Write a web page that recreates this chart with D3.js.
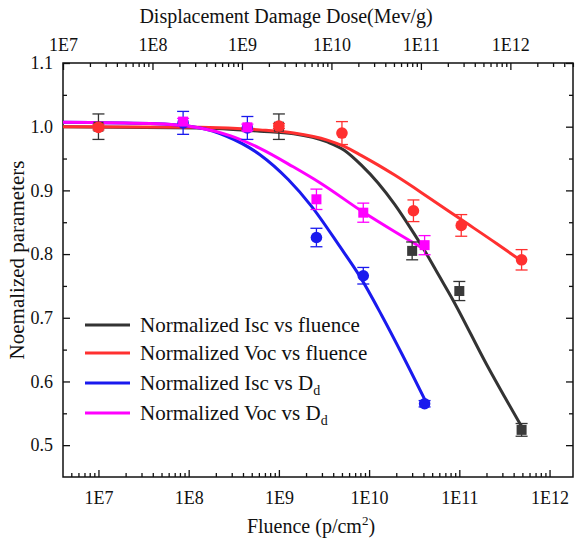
<!DOCTYPE html>
<html>
<head>
<meta charset="utf-8">
<script src="https://cdn.jsdelivr.net/npm/d3@7"></script>
<style>
  body { margin: 0; background: #fff; }
  svg { display: block; }
  text { font-family: "Liberation Serif", "Times New Roman", serif; fill: #111; }
</style>
</head>
<body>
<svg id="chart" width="576" height="545"></svg>
<script>
// ---- measured points (fluence axis, p/cm^2) ----
const iscFluence    = [1e7, 1e9, 3e10, 1e11, 4.9e11];
const iscFluenceVal = [1.000, 1.000, 0.805, 0.742, 0.524];
const iscFluenceErr = [0.020, 0.020, 0.014, 0.015, 0.010];

const vocFluence    = [1e7, 1e9, 5e9, 3.1e10, 1.05e11, 4.9e11];
const vocFluenceVal = [0.999, 1.001, 0.990, 0.868, 0.845, 0.791];
const vocFluenceErr = [0.004, 0.004, 0.018, 0.017, 0.017, 0.016];

// ---- measured points (displacement damage dose axis, MeV/g) ----
const iscDd    = [2.2e8, 1.15e9, 6.8e9, 2.27e10, 1.1e11];
const iscDdVal = [1.006, 0.998, 0.826, 0.766, 0.565];
const iscDdErr = [0.018, 0.018, 0.0145, 0.013, 0.005];

const vocDd    = [2.2e8, 1.15e9, 6.8e9, 2.27e10, 1.1e11];
const vocDdVal = [1.008, 0.999, 0.886, 0.865, 0.814];
const vocDdErr = [0.005, 0.005, 0.016, 0.015, 0.015];

// ---- fitted curves ----
const iscFluenceFitX = [4.05e6, 1.33e8, 6.15e8, 1.46e9, 3.44e9, 5.3e9, 8.15e9, 1.25e10, 1.92e10, 2.96e10, 4.18e10, 5.9e10, 8.34e10, 2.0e11, 4.86e11];
const iscFluenceFitY = [1.000, 0.998, 0.993, 0.989, 0.976, 0.963, 0.940, 0.912, 0.878, 0.838, 0.804, 0.767, 0.730, 0.627, 0.530];

const vocFluenceFitX = [4.05e6, 1.33e8, 6.15e8, 1.46e9, 3.44e9, 5.3e9, 8.15e9, 1.25e10, 1.92e10, 4.56e10, 1.08e11, 2.56e11, 4.9e11];
const vocFluenceFitY = [1.000, 0.999, 0.995, 0.990, 0.979, 0.969, 0.955, 0.940, 0.924, 0.889, 0.853, 0.817, 0.789];

const iscDdFitX = [1e7, 9.4e7, 3.4e8, 6.75e8, 1.59e9, 3.29e9, 6.0e9, 1.24e10, 2.08e10, 3.64e10, 6.3e10, 1.11e11];
const iscDdFitY = [1.007, 1.005, 0.998, 0.985, 0.956, 0.917, 0.875, 0.812, 0.765, 0.704, 0.640, 0.571];

const vocDdFitX = [1e7, 9.4e7, 3.4e8, 7.35e8, 1.59e9, 3.74e9, 7.43e9, 2.26e10, 5.12e10, 1.08e11];
const vocDdFitY = [1.007, 1.005, 0.998, 0.986, 0.966, 0.937, 0.912, 0.866, 0.835, 0.808];

// ---- axis ticks ----
const decadeTicks = [1e7, 1e8, 1e9, 1e10, 1e11, 1e12];
const yMajorTicks = [0.5, 0.6, 0.7, 0.8, 0.9, 1.0, 1.1];
const yMinorTicks = [0.55, 0.65, 0.75, 0.85, 0.95, 1.05];

const legendLabels = [
  { text: "Normalized Isc vs fluence", sub: null, color: "#333333" },
  { text: "Normalized Voc vs fluence", sub: null, color: "#ff3030" },
  { text: "Normalized Isc vs D", sub: "d", color: "#1a1aee" },
  { text: "Normalized Voc vs D", sub: "d", color: "#ff00ff" }
];

const SERIF = '"Liberation Serif","Times New Roman",serif';

// ---- layout ----
const L = 63, R = 573, T = 63, B = 477;
const svg = d3.select("#chart");

const xBottom = d3.scaleLog().domain([Math.pow(10, 6.607), Math.pow(10, 12.26)]).range([L, R]);
const xTop = d3.scaleLog().domain([1e7, Math.pow(10, 12.7)]).range([L, R]);
const y = d3.scaleLinear().domain([0.45, 1.1]).range([B, T]);

const fmtDecade = d => "1E" + Math.round(Math.log10(d));
function minorsOf(scale) {
  const [a, b] = scale.domain();
  const out = [];
  for (let e = Math.floor(Math.log10(a)); e <= Math.ceil(Math.log10(b)); e++) {
    for (let m = 2; m <= 9; m++) {
      const v = m * Math.pow(10, e);
      if (v > a && v < b) out.push(v);
    }
  }
  return out;
}

// axes
const gBottom = svg.append("g").attr("transform", `translate(0,${B})`);
gBottom.call(d3.axisBottom(xBottom).tickValues(decadeTicks).tickSize(-7).tickPadding(14).tickFormat(fmtDecade));
gBottom.append("g").call(d3.axisBottom(xBottom).tickValues(minorsOf(xBottom)).tickSize(-4).tickFormat(""));

const gTop = svg.append("g").attr("transform", `translate(0,${T})`);
gTop.call(d3.axisTop(xTop).tickValues(decadeTicks).tickSize(-7).tickPadding(12).tickFormat(fmtDecade));
gTop.append("g").call(d3.axisTop(xTop).tickValues(minorsOf(xTop)).tickSize(-4).tickFormat(""));

const gLeft = svg.append("g").attr("transform", `translate(${L},0)`);
gLeft.call(d3.axisLeft(y).tickValues(yMajorTicks).tickSize(-7).tickPadding(10).tickFormat(d3.format(".1f")));
gLeft.append("g").call(d3.axisLeft(y).tickValues(yMinorTicks).tickSize(-4).tickFormat(""));

const gRight = svg.append("g").attr("transform", `translate(${R},0)`);
gRight.call(d3.axisRight(y).tickValues(yMajorTicks).tickSize(-7).tickFormat(""));
gRight.append("g").call(d3.axisRight(y).tickValues(yMinorTicks).tickSize(-4).tickFormat(""));

[gBottom, gTop, gLeft, gRight].forEach(g => g.attr("font-family", SERIF).attr("font-size", 18));
svg.selectAll(".domain").remove();
svg.selectAll(".tick line").attr("stroke", "#111").attr("stroke-width", 1.3);
svg.selectAll(".tick text").style("font-family", SERIF).style("font-size", "18px").attr("fill", "#111");

svg.append("rect").attr("x", L).attr("y", T).attr("width", R - L).attr("height", B - T)
  .attr("fill", "none").attr("stroke", "#111").attr("stroke-width", 1.5);

// titles
svg.append("text").attr("x", 286).attr("y", 23).attr("text-anchor", "middle")
  .style("font-family", SERIF).style("font-size", "20px").text("Displacement Damage Dose(Mev/g)");

const xt = svg.append("text").attr("x", 311).attr("y", 533).attr("text-anchor", "middle")
  .style("font-family", SERIF).style("font-size", "20px");
xt.append("tspan").text("Fluence (p/cm");
xt.append("tspan").attr("dy", -8).style("font-size", "13px").text("2");
xt.append("tspan").attr("dy", 8).text(")");

svg.append("text").attr("transform", "translate(24,260) rotate(-90)").attr("text-anchor", "middle")
  .style("font-family", SERIF).style("font-size", "21px").text("Noemalized parameters");

// fitted curves
const plot = svg.append("g");
function curve(xs, ys, xs_scale, color) {
  const pts = xs.map((d, i) => [d, ys[i]]);
  plot.append("path").datum(pts)
    .attr("fill", "none").attr("stroke", color).attr("stroke-width", 3)
    .attr("stroke-linejoin", "round")
    .attr("d", d3.line().x(d => xs_scale(d[0])).y(d => y(d[1])).curve(d3.curveMonotoneX));
}
curve(iscFluenceFitX, iscFluenceFitY, xBottom, "#333333");
curve(vocFluenceFitX, vocFluenceFitY, xBottom, "#ff3030");
curve(iscDdFitX, iscDdFitY, xTop, "#1a1aee");
curve(vocDdFitX, vocDdFitY, xTop, "#ff00ff");

// error bars + markers
function series(xs, vals, errs, xs_scale, color, errColor, shape) {
  const g = plot.append("g");
  xs.forEach((d, i) => {
    const cx = xs_scale(d), v = vals[i], e = errs[i];
    const y1 = y(v - e), y2 = y(v + e);
    g.append("line").attr("x1", cx).attr("x2", cx).attr("y1", y1).attr("y2", y2)
      .attr("stroke", errColor).attr("stroke-width", 1.3);
    [y1, y2].forEach(yy => g.append("line").attr("x1", cx - 6).attr("x2", cx + 6)
      .attr("y1", yy).attr("y2", yy).attr("stroke", errColor).attr("stroke-width", 1.3));
  });
  xs.forEach((d, i) => {
    const cx = xs_scale(d), cy = y(vals[i]);
    if (shape === "square") {
      g.append("rect").attr("x", cx - 5).attr("y", cy - 5).attr("width", 10).attr("height", 10)
        .attr("fill", color);
    } else {
      g.append("circle").attr("cx", cx).attr("cy", cy).attr("r", 5.8).attr("fill", color);
    }
  });
}
series(iscFluence, iscFluenceVal, iscFluenceErr, xBottom, "#3a3a3a", "#333333", "square");
series(vocFluence, vocFluenceVal, vocFluenceErr, xBottom, "#ff3030", "#ff3030", "circle");
series(iscDd, iscDdVal, iscDdErr, xTop, "#1a1aee", "#1a1aee", "circle");
series(vocDd, vocDdVal, vocDdErr, xTop, "#ff00ff", "#ff00ff", "square");

// legend
const legendY = [325, 353, 383, 413];
const lg = svg.append("g");
legendLabels.forEach((d, i) => {
  const yy = legendY[i];
  lg.append("line").attr("x1", 85).attr("x2", 130).attr("y1", yy).attr("y2", yy)
    .attr("stroke", d.color).attr("stroke-width", 3);
  const t = lg.append("text").attr("x", 140).attr("y", yy + 7)
    .style("font-family", SERIF).style("font-size", "21px");
  t.append("tspan").text(d.text);
  if (d.sub) t.append("tspan").attr("dy", 5).style("font-size", "14px").text(d.sub);
});
</script>
</body>
</html>
